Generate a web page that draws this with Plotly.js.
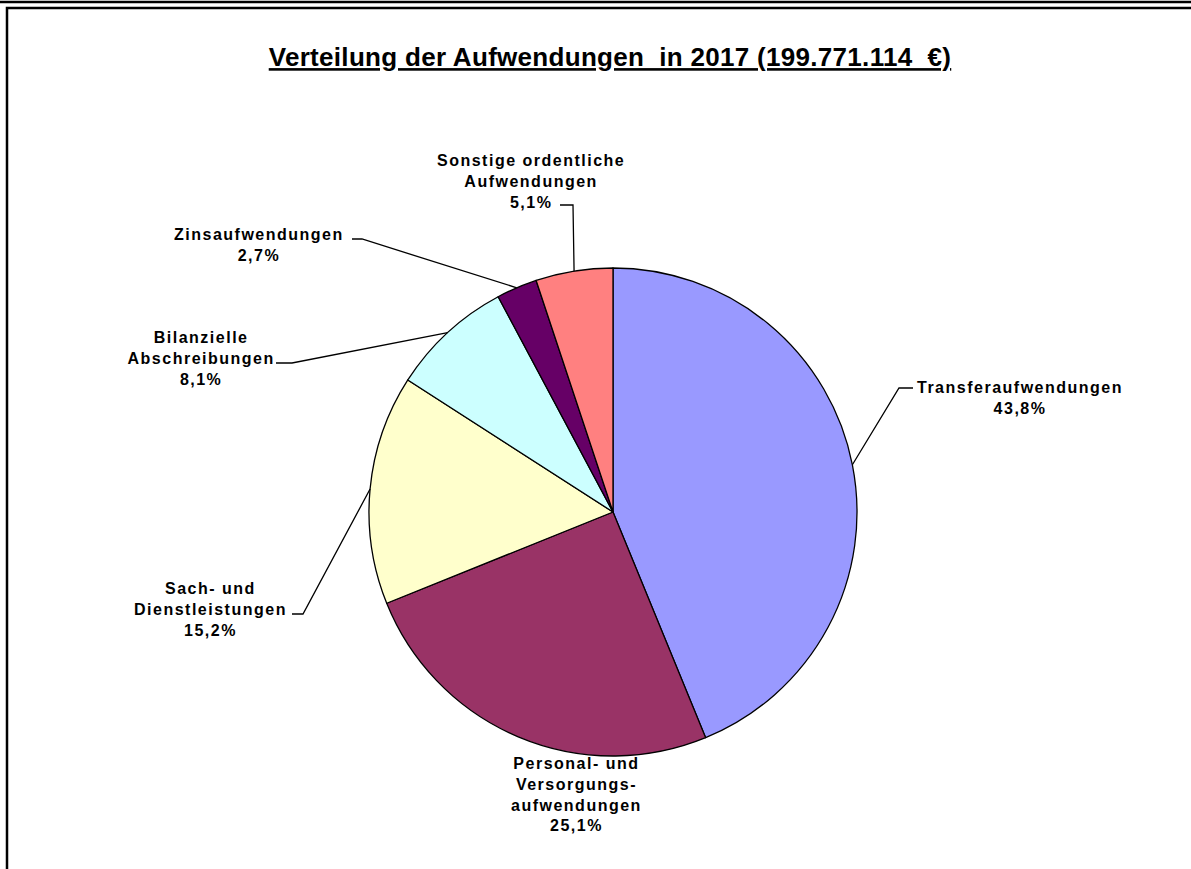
<!DOCTYPE html>
<html>
<head>
<meta charset="utf-8">
<script src="https://cdn.plot.ly/plotly-3.0.1.min.js"></script>
<style>
html,body{margin:0;padding:0;background:#fff;}
#chart{width:1191px;height:869px;}
#chart .annotation-text{letter-spacing:1.5px;}
#chart .gtitle{letter-spacing:0.3px;}
</style>
</head>
<body>
<div id="chart"></div>
<script>
// ---- data ----
const categories = [
  "Transferaufwendungen",
  "Personal- und Versorgungsaufwendungen",
  "Sach- und Dienstleistungen",
  "Bilanzielle Abschreibungen",
  "Zinsaufwendungen",
  "Sonstige ordentliche Aufwendungen"
];
const shares = [43.8, 25.1, 15.2, 8.1, 2.7, 5.1];
const labelTexts = [
  "Transferaufwendungen",
  "Personal- und<br>Versorgungs-<br>aufwendungen",
  "Sach- und<br>Dienstleistungen",
  "Bilanzielle<br>Abschreibungen",
  "Zinsaufwendungen",
  "Sonstige ordentliche<br>Aufwendungen"
];
const colors = ["#9999FF", "#993366", "#FFFFCC", "#CCFFFF", "#660066", "#FF8080"];
const titleText = "Verteilung der Aufwendungen  in 2017 (199.771.114  €)";

// ---- layout constants (pixels) ----
const W = 1191, H = 869;
const cx = 613, cy = 512, R = 244;
const px = x => x / W;
const py = y => 1 - y / H;

// label centres and leader-line elbows (style / placement)
const labelPos = [
  {x: 1020, y: 398, leader: [[899, 388], [913, 388]]},
  {x: 576, y: 794, leader: null},
  {x: 210, y: 609, leader: [[303, 614], [292, 614]]},
  {x: 201, y: 358, leader: [[292, 363], [276, 363]]},
  {x: 259, y: 245, leader: [[362, 239], [352, 239]]},
  {x: 531, y: 182, leader: [[573, 205], [560, 205]]}
];

const fmt = v => v.toFixed(1).replace(".", ",") + "%";
const total = shares.reduce((a, b) => a + b, 0);

const annotations = [];
const shapes = [];
let cum = 0;
shares.forEach((v, i) => {
  const mid = (cum + v / 2) / total * 2 * Math.PI; // clockwise from 12 o'clock
  cum += v;
  const ex = cx + R * Math.sin(mid), ey = cy - R * Math.cos(mid);
  const lp = labelPos[i];
  annotations.push({
    xref: "paper", yref: "paper", x: px(lp.x), y: py(lp.y),
    xanchor: "center", yanchor: "middle", align: "center", showarrow: false,
    text: "<b>" + labelTexts[i] + "<br>" + fmt(v) + "</b>",
    font: {family: "Liberation Sans, Arial, sans-serif", size: 16, color: "#000"}
  });
  if (lp.leader) {
    let d = `M${px(ex)},${py(ey)}`;
    lp.leader.forEach(p => { d += ` L${px(p[0])},${py(p[1])}`; });
    shapes.push({type: "path", xref: "paper", yref: "paper", path: d,
      line: {color: "#000", width: 1.3}});
  }
});

// frame
shapes.push({type: "line", xref: "paper", yref: "paper", x0: 0, x1: 1.05,
  y0: py(2), y1: py(2), line: {color: "#000", width: 2.5}});
shapes.push({type: "rect", xref: "paper", yref: "paper", x0: px(7), x1: 1.05,
  y0: -0.05, y1: py(8), line: {color: "#000", width: 2.5}, fillcolor: "rgba(0,0,0,0)"});

const trace = {
  type: "pie",
  labels: categories,
  values: shares,
  sort: false,
  direction: "clockwise",
  rotation: 0,
  textinfo: "none",
  hoverinfo: "label+percent",
  marker: {colors: colors, line: {color: "#000", width: 1.3}},
  domain: {x: [px(cx - R), px(cx + R)], y: [py(cy + R), py(cy - R)]},
  showlegend: false
};

const layout = {
  width: W, height: H,
  margin: {l: 0, r: 0, t: 0, b: 0},
  paper_bgcolor: "#fff",
  showlegend: false,
  title: {
    text: "<b>" + titleText + "</b>",
    xref: "paper", yref: "paper", x: px(610), y: py(57),
    xanchor: "center", yanchor: "middle",
    font: {family: "Liberation Sans, Arial, sans-serif", size: 26, color: "#000", lineposition: "under"}
  },
  annotations: annotations,
  shapes: shapes
};

Plotly.newPlot("chart", [trace], layout, {displayModeBar: false, staticPlot: true});
</script>
</body>
</html>
